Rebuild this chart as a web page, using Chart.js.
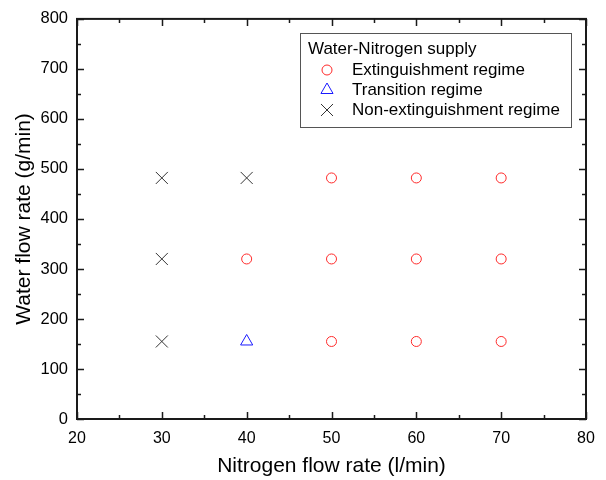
<!DOCTYPE html>
<html>
<head>
<meta charset="utf-8">
<script src="https://cdn.jsdelivr.net/npm/chart.js@4.4.1/dist/chart.umd.min.js"></script>
<style>
  html, body { margin: 0; padding: 0; background: #fff; }
  #wrap { width: 606px; height: 480px; position: relative; }
</style>
</head>
<body>
<div id="wrap"><canvas id="chart"></canvas></div>
<script>
const extX = [50, 60, 70, 40, 50, 60, 70, 50, 60, 70];
const extY = [482, 482, 482, 320, 320, 320, 320, 155, 155, 155];
const transX = [40];
const transY = [155];
const nonX = [30, 40, 30, 30];
const nonY = [482, 482, 320, 155];

const seriesNames = ["Extinguishment regime", "Transition regime", "Non-extinguishment regime"];
const legendTitle = "Water-Nitrogen supply";

const xMin = 20, xMax = 80, xStep = 10;
const yMin = 0, yMax = 800, yStep = 100;

const FONT = "'Liberation Sans', Arial, sans-serif";

function toPoints(xs, ys) {
  return xs.map((x, i) => ({ x: x, y: ys[i] }));
}

// frame + inward ticks on all four sides
const framePlugin = {
  id: "frame",
  afterDraw(chart) {
    const ctx = chart.ctx;
    const a = chart.chartArea;
    const xs = chart.scales.x;
    const ys = chart.scales.y;
    ctx.save();
    ctx.strokeStyle = "#1a1a1a";
    ctx.lineWidth = 1.5;
    for (let v = xMin; v <= xMax; v += xStep / 2) {
      const px = Math.round(xs.getPixelForValue(v)) + 0.5;
      const len = (v % xStep === 0) ? 7 : 4;
      ctx.beginPath();
      ctx.moveTo(px, a.bottom); ctx.lineTo(px, a.bottom - len);
      ctx.moveTo(px, a.top); ctx.lineTo(px, a.top + len);
      ctx.stroke();
    }
    for (let v = yMin; v <= yMax; v += yStep / 2) {
      const py = Math.round(ys.getPixelForValue(v)) + 0.5;
      const len = (v % yStep === 0) ? 7 : 4;
      ctx.beginPath();
      ctx.moveTo(a.left, py); ctx.lineTo(a.left + len, py);
      ctx.moveTo(a.right, py); ctx.lineTo(a.right - len, py);
      ctx.stroke();
    }
    ctx.lineWidth = 2;
    ctx.strokeRect(a.left, a.top, a.right - a.left, a.bottom - a.top);
    ctx.restore();
  }
};

// boxed legend with a title, top right inside the plot
const legendPlugin = {
  id: "boxLegend",
  afterDraw(chart) {
    const ctx = chart.ctx;
    const bx = 300, by = 33, bw = 271, bh = 94;
    ctx.save();
    ctx.fillStyle = "#fff";
    ctx.fillRect(bx, by, bw, bh);
    ctx.strokeStyle = "#555";
    ctx.lineWidth = 1;
    ctx.strokeRect(bx + 0.5, by + 0.5, bw, bh);
    ctx.fillStyle = "#000";
    ctx.font = "17px " + FONT;
    ctx.textBaseline = "middle";
    ctx.fillText(legendTitle, bx + 8, by + 16);
    chart.data.datasets.forEach((ds, i) => {
      const yy = by + 37 + i * 20;
      ctx.strokeStyle = ds.borderColor;
      ctx.fillStyle = "rgba(0,0,0,0)";
      ctx.lineWidth = 1;
      Chart.helpers.drawPoint(ctx, {
        pointStyle: ds.pointStyle,
        radius: ds.pointRadius,
        borderWidth: 1
      }, bx + 27, yy);
      ctx.fillStyle = "#000";
      ctx.fillText(ds.label, bx + 52, yy);
    });
    ctx.restore();
  }
};

new Chart(document.getElementById("chart"), {
  type: "scatter",
  data: {
    datasets: [
      {
        label: seriesNames[0],
        data: toPoints(extX, extY),
        pointStyle: "circle",
        pointRadius: 5,
        borderColor: "#ff2a2a",
        backgroundColor: "rgba(0,0,0,0)",
        borderWidth: 1
      },
      {
        label: seriesNames[1],
        data: toPoints(transX, transY),
        pointStyle: "triangle",
        pointRadius: 7,
        borderColor: "#1a1aff",
        backgroundColor: "rgba(0,0,0,0)",
        borderWidth: 1
      },
      {
        label: seriesNames[2],
        data: toPoints(nonX, nonY),
        pointStyle: "crossRot",
        pointRadius: 8.5,
        borderColor: "#333333",
        backgroundColor: "rgba(0,0,0,0)",
        borderWidth: 1
      }
    ]
  },
  options: {
    responsive: true,
    maintainAspectRatio: false,
    animation: false,
    layout: { padding: { top: 17, right: 20, left: 0, bottom: 0 } },
    plugins: {
      legend: { display: false },
      tooltip: { enabled: false }
    },
    scales: {
      x: {
        type: "linear",
        min: xMin,
        max: xMax,
        afterFit: (s) => { s.height = 61; },
        grid: { display: false, drawTicks: false },
        border: { display: false },
        ticks: {
          stepSize: xStep,
          padding: 10,
          color: "#000",
          font: { family: FONT, size: 16 }
        },
        title: {
          display: true,
          text: "Nitrogen flow rate (l/min)",
          color: "#000",
          font: { family: FONT, size: 21 },
          padding: { top: 0, bottom: 1 }
        }
      },
      y: {
        type: "linear",
        min: yMin,
        max: yMax,
        afterFit: (s) => { s.width = 77; },
        grid: { display: false, drawTicks: false },
        border: { display: false },
        ticks: {
          stepSize: yStep,
          padding: 9,
          color: "#000",
          font: { family: FONT, size: 16.5 }
        },
        title: {
          display: true,
          text: "Water flow rate (g/min)",
          color: "#000",
          font: { family: FONT, size: 21 },
          padding: { top: 12, bottom: 0 }
        }
      }
    }
  },
  plugins: [framePlugin, legendPlugin]
});
</script>
</body>
</html>
